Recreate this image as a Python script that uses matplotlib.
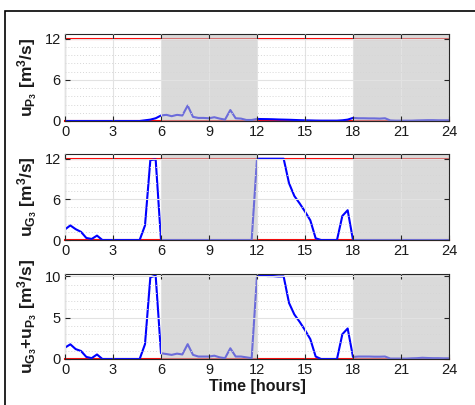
import numpy as np
import matplotlib
matplotlib.use("Agg")
import matplotlib.pyplot as plt
from matplotlib.patches import Rectangle
from matplotlib.ticker import MultipleLocator

plt.rcParams['font.family'] = ['Liberation Sans', 'DejaVu Sans']
plt.rcParams['mathtext.fontset'] = 'custom'
plt.rcParams['mathtext.rm'] = 'Liberation Sans:bold'
plt.rcParams['mathtext.it'] = 'Liberation Sans:bold'
plt.rcParams['mathtext.bf'] = 'Liberation Sans:bold'
plt.rcParams['mathtext.default'] = 'bf'

## time grid, 20 minute steps over one day
t = np.linspace(0, 24, 73)

u_p3 = [0, 0, 0, 0, 0, 0, 0, 0, 0, 0, 0, 0, 0, 0, 0,
        0.1, 0.2, 0.4, 0.8, 0.9, 0.7, 0.9, 0.8, 2.25, 0.6, 0.45, 0.45, 0.4,
        0.55, 0.35, 0.2, 1.6, 0.4, 0.35, 0.15, 0.15,
        0.3, 0.28, 0.27, 0.25, 0.22, 0.2, 0.18, 0.15, 0.12, 0.1, 0.08, 0.06,
        0.05, 0.05, 0.05, 0.05, 0.1, 0.2,
        0.45, 0.4, 0.4, 0.38, 0.38, 0.35, 0.4, 0.08, 0.05, 0.05, 0.05, 0.05,
        0.08, 0.1, 0.12, 0.12, 0.1, 0.1, 0.1]

u_g3 = [1.57, 2.15, 1.6, 1.2, 0.3, 0.15, 0.65, 0, 0, 0, 0, 0, 0, 0, 0,
        2.15, 11.8, 11.9, 0, 0, 0, 0, 0, 0, 0, 0, 0, 0,
        0, 0, 0, 0, 0, 0, 0, 0,
        12, 12, 12, 12, 12, 12, 8.4, 6.5, 5.4, 4.2, 2.9, 0.25,
        0, 0, 0, 0, 3.55, 4.4,
        0, 0, 0, 0, 0, 0, 0, 0, 0, 0, 0, 0,
        0, 0, 0, 0, 0, 0, 0]

u_sum = [1.38, 1.78, 1.2, 0.97, 0.25, 0.1, 0.55, 0, 0, 0, 0, 0, 0, 0, 0,
         1.8, 9.9, 10.1, 0.7, 0.6, 0.5, 0.65, 0.55, 1.8, 0.5, 0.3, 0.3, 0.3,
         0.4, 0.2, 0.1, 1.3, 0.3, 0.3, 0.2, 0.1,
         10.1, 10.1, 10.05, 10.05, 10.0, 10.0, 6.8, 5.4, 4.5, 3.5, 2.4, 0.3,
         0, 0, 0, 0, 3.0, 3.7,
         0.25, 0.3, 0.3, 0.3, 0.28, 0.28, 0.3, 0.05, 0.05, 0.05, 0.05, 0.08,
         0.1, 0.15, 0.12, 0.1, 0.1, 0.08, 0.08]

shaded = [(6, 12), (18, 24)]

series = [u_p3, u_g3, u_sum]
upper = [12, 12, None]
ylims = [12.7, 12.7, 10.3]
yticks = [[0, 6, 12], [0, 6, 12], [0, 5, 10]]
minor_step = [1.2, 1.2, 1.0]
ylabels = [r'$u_{P_3}$ [m$^3$/s]', r'$u_{G_3}$ [m$^3$/s]',
           r'$u_{G_3}$+$u_{P_3}$ [m$^3$/s]']
boxes = [(34, 121), (154, 240), (274, 359)]

W, H = 475, 405
fig = plt.figure(figsize=(W / 100, H / 100), dpi=100)

dark = '#1a1a1a'
for i in range(3):
    top, bot = boxes[i]
    ax = fig.add_axes([65 / W, 1 - bot / H, (449 - 65) / W, (bot - top) / H])
    ax.plot([0, 24], [0, 0], color='red', lw=1.5, zorder=1.4, clip_on=False)
    if upper[i] is not None:
        ax.plot([0, 24], [upper[i], upper[i]], color='red', lw=1.5, zorder=1.4)
    ax.plot(t, series[i], color='blue', lw=1.5, zorder=1.5)
    for a, b in shaded:
        ax.axvspan(a, b, facecolor=(0.75, 0.75, 0.75), alpha=0.57, lw=0, zorder=2)
    ax.set_axisbelow(False)
    ax.set_xlim(0, 24)
    ax.set_ylim(0, ylims[i])
    ax.set_xticks(range(0, 25, 3))
    ax.set_yticks(yticks[i])
    ax.yaxis.set_minor_locator(MultipleLocator(minor_step[i]))
    ax.grid(True, which='major', color='#e2e2e2', lw=0.8, ls='-')
    ax.grid(True, which='minor', axis='y', color='#d6d6d6', lw=0.7, ls=(0, (1, 2)))
    ax.tick_params(which='both', direction='in', top=True, right=True,
                   color='#262626', labelcolor=dark, labelsize=10.5, pad=3)
    ax.tick_params(which='major', length=3.5, width=0.8)
    ax.tick_params(which='minor', length=0)
    for s in ax.spines.values():
        s.set_color('#262626')
        s.set_linewidth(0.8)
    ax.set_ylabel(ylabels[i], fontsize=12.5, fontweight='bold', color=dark, labelpad=3)
    if i == 2:
        ax.set_xlabel('Time [hours]', fontsize=11.5, fontweight='bold', color=dark, labelpad=1)

fig.add_artist(Rectangle((5 / W, -0.1), 1.2, 1.1 - 11 / H, transform=fig.transFigure,
                         fill=False, ec='black', lw=1.2, clip_on=False))

fig.savefig('out.png', dpi=100)
